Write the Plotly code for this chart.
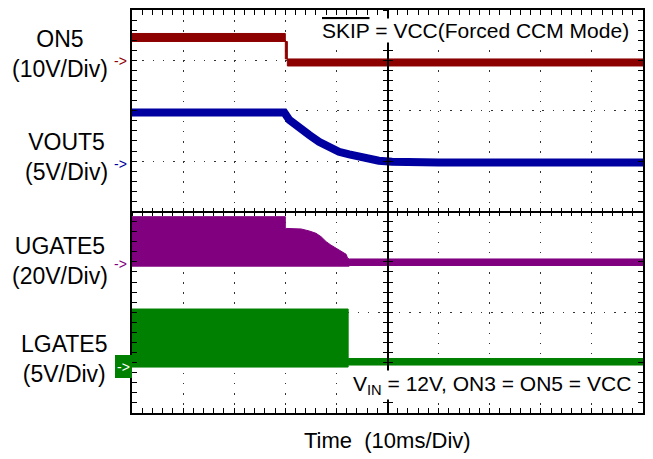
import plotly.graph_objects as go

# ---------------- data (time in ms, 10 ms/div; voltages in V) ----------------
# channel scales (V/div) and ground offsets (div from screen centre)
on5_scale, vout5_scale, ugate5_scale, lgate5_scale = 10.0, 5.0, 20.0, 5.0
on5_off, vout5_off, ugate5_off, lgate5_off = 3.0, 1.0, -1.0, -3.0

# ON5 trace envelope (top / bottom edge of the trace)
on5_t_top = [0, 30.0, 30.0, 100]
on5_v_top = [5.34, 5.34, 0.28, 0.28]
on5_t_bot = [0, 30.4, 30.4, 100]
on5_v_bot = [3.75, 3.75, -1.11, -1.11]

# VOUT5 centre line
vout5_t = [0, 29.8, 30.8, 32.7, 34.7, 36.6, 38.6, 40.5, 42.5, 44.4, 46.4, 48.3, 50.9, 60, 100]
vout5_v = [4.82, 4.82, 4.08, 3.25, 2.59, 1.92, 1.33, 0.93, 0.67, 0.44, 0.21, 0.04, -0.06, -0.14, -0.14]

# UGATE5 switching envelope
ugate5_t_top = [0, 30.0, 30.0, 33.1, 34.7, 36.0, 37.0, 38.0, 38.9, 39.9, 40.9, 41.9, 42.2, 42.5, 100]
ugate5_v_top = [17.94, 17.94, 13.3, 13.06, 12.26, 11.35, 10.0, 8.02, 6.71, 5.40, 4.33, 3.02, 1.43, 1.15, 1.15]
ugate5_t_bot = [0, 42.5, 42.5, 100]
ugate5_v_bot = [-1.7, -1.7, -1.43, -1.43]

# LGATE5 switching envelope
lgate5_t_top = [0, 42.3, 42.3, 100]
lgate5_v_top = [5.32, 5.32, 0.41, 0.41]
lgate5_t_bot = [0, 42.3, 42.3, 100]
lgate5_v_bot = [-0.44, -0.44, -0.24, -0.24]

labels = ["ON5<br>(10V/Div)", "VOUT5<br>(5V/Div)", "UGATE5<br>(20V/Div)", "LGATE5<br>(5V/Div)"]
colors = ["#8c0000", "#0000a0", "#800080", "#008000"]

PX_W, PX_H = 513.0, 403.0  # plot area size in px


def to_div(vals, off, scale):
    return [off + v / scale for v in vals]


def envelope(tt, vt, tb, vb, off, scale):
    x = list(tt) + list(reversed(tb))
    y = to_div(vt, off, scale) + list(reversed(to_div(vb, off, scale)))
    return x, y


fig = go.Figure()

for (tt, vt, tb, vb, off, sc, col) in [
    (on5_t_top, on5_v_top, on5_t_bot, on5_v_bot, on5_off, on5_scale, colors[0]),
    (ugate5_t_top, ugate5_v_top, ugate5_t_bot, ugate5_v_bot, ugate5_off, ugate5_scale, colors[2]),
    (lgate5_t_top, lgate5_v_top, lgate5_t_bot, lgate5_v_bot, lgate5_off, lgate5_scale, colors[3]),
]:
    x, y = envelope(tt, vt, tb, vb, off, sc)
    fig.add_trace(go.Scatter(x=x, y=y, mode="lines", fill="toself", fillcolor=col,
                             line=dict(color=col, width=1), showlegend=False, hoverinfo="skip"))

fig.add_trace(go.Scatter(x=vout5_t, y=to_div(vout5_v, vout5_off, vout5_scale), mode="lines",
                         line=dict(color=colors[1], width=8), showlegend=False, hoverinfo="skip"))

# helper traces so the centre cross-hair axes get drawn
fig.add_trace(go.Scatter(x=[None], y=[None], xaxis="x2", yaxis="y2", showlegend=False, hoverinfo="skip"))
fig.add_trace(go.Scatter(x=[None], y=[None], xaxis="x3", yaxis="y3", showlegend=False, hoverinfo="skip"))

common = dict(showticklabels=False, zeroline=False, fixedrange=True)

fig.update_layout(
    width=653, height=459,
    margin=dict(l=132, r=8, t=10, b=46),
    paper_bgcolor="white", plot_bgcolor="white",
    font=dict(family="Liberation Sans, Arial, sans-serif", color="black"),
    xaxis=dict(range=[0, 100], dtick=10, tick0=0, showgrid=True, gridcolor="#333", gridwidth=1,
               griddash="1.5px,8.58px", showline=True, mirror="ticks", linecolor="black", linewidth=1.5,
               ticks="inside", ticklen=5, tickcolor="black", tickwidth=1,
               minor=dict(dtick=2, tick0=0, ticks="inside", ticklen=5, tickcolor="black", tickwidth=1, showgrid=False),
               **common),
    yaxis=dict(range=[-4, 4], dtick=1, tick0=0, showgrid=True, gridcolor="#333", gridwidth=1,
               griddash="1.5px,8.76px", showline=True, mirror="ticks", linecolor="black", linewidth=1.5,
               ticks="inside", ticklen=5, tickcolor="black", tickwidth=1,
               minor=dict(dtick=0.2, tick0=0, ticks="inside", ticklen=5, tickcolor="black", tickwidth=1, showgrid=False),
               **common),
    xaxis2=dict(overlaying="x", anchor="free", position=0.5, range=[0, 100], dtick=10, showgrid=False,
                showline=True, linecolor="black", linewidth=1.5, ticks="outside", ticklen=4, tickcolor="black",
                minor=dict(dtick=2, ticks="outside", ticklen=4, tickcolor="black", showgrid=False), **common),
    yaxis2=dict(overlaying="y", anchor="free", position=0.5, range=[-4, 4], dtick=1, showgrid=False,
                showline=True, linecolor="black", linewidth=1.5, ticks="outside", ticklen=4, tickcolor="black",
                minor=dict(dtick=0.2, ticks="outside", ticklen=4, tickcolor="black", showgrid=False), **common),
    xaxis3=dict(overlaying="x", anchor="free", position=0.5, range=[0, 100], dtick=10, showgrid=False,
                showline=False, ticks="inside", ticklen=4, tickcolor="black",
                minor=dict(dtick=2, ticks="inside", ticklen=4, tickcolor="black", showgrid=False), **common),
    yaxis3=dict(overlaying="y", anchor="free", position=0.5, range=[-4, 4], dtick=1, showgrid=False,
                showline=False, ticks="inside", ticklen=4, tickcolor="black",
                minor=dict(dtick=0.2, ticks="inside", ticklen=4, tickcolor="black", showgrid=False), **common),
)


def px_x(px):
    return (px - 132.0) / PX_W


def px_div(py):
    return (211.5 - py) / (PX_H / 8.0)


# channel labels
label_y = [53.5, 156.75, 261.35, 358.8]
for txt, py in zip(labels, label_y):
    fig.add_annotation(x=px_x(110), xref="paper", y=px_div(py), yref="y", text=txt, showarrow=False,
                       xanchor="right", yanchor="middle", align="center", font=dict(size=23, color="black"))

# ground markers
marker_y = [61, 164, 264]
for col, py in zip(colors[:3], marker_y):
    fig.add_annotation(x=px_x(129), xref="paper", y=px_div(py), yref="y", text="-&gt;", showarrow=False,
                       xanchor="right", yanchor="middle", font=dict(size=14, color=col))
fig.add_annotation(x=px_x(132), xref="paper", y=px_div(366.7), yref="y", text="-&gt;", showarrow=False,
                   xanchor="right", yanchor="middle", font=dict(size=14, color="white"),
                   bgcolor=colors[3], width=17, height=23, borderpad=0, borderwidth=0)

# notes
fig.add_annotation(x=px_x(632), xref="paper", y=px_div(30), yref="y",
                   text='<span style="text-decoration:overline">SKIP</span> = VCC(Forced CCM Mode)',
                   bgcolor="white", borderpad=0,
                   showarrow=False, xanchor="right", yanchor="middle", font=dict(size=21, color="black"))
fig.add_annotation(x=px_x(635), xref="paper", y=px_div(385), yref="y",
                   text="V<sub>IN</sub> = 12V, ON3 = ON5 = VCC", bgcolor="white",
                   showarrow=False, xanchor="right", yanchor="middle", font=dict(size=21, color="black"))

# x-axis title
fig.add_annotation(x=0.5, xref="paper", y=(413 - 440) / PX_H, yref="paper", text="Time\u00a0 (10ms/Div)",
                   showarrow=False, xanchor="center", yanchor="middle", font=dict(size=22, color="black"))

fig.write_html("out.html")
